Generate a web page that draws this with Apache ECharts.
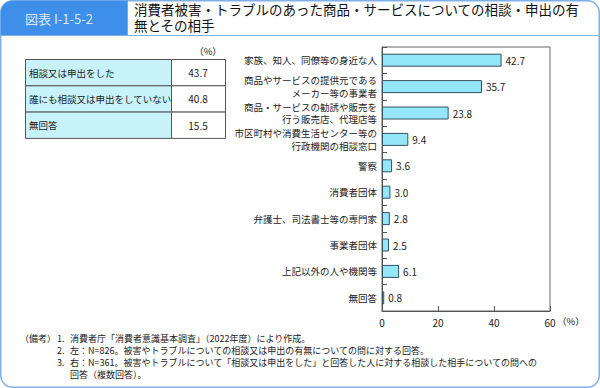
<!DOCTYPE html>
<html><head><meta charset="utf-8">
<script src="https://cdn.jsdelivr.net/npm/echarts@6/dist/echarts.min.js"></script>
<style>html,body{margin:0;padding:0;background:#fff}#c{width:600px;height:388px}</style>
</head><body><div id="c"></div>
<script>
// ---- data ----
var tableCategories = ['相談又は申出をした', '誰にも相談又は申出をしていない', '無回答'];
var tableValues = [43.7, 40.8, 15.5];
var barCategories = [
  '家族、知人、同僚等の身近な人',
  '商品やサービスの提供元である\nメーカー等の事業者',
  '商品・サービスの勧誘や販売を\n行う販売店、代理店等',
  '市区町村や消費生活センター等の\n行政機関の相談窓口',
  '警察',
  '消費者団体',
  '弁護士、司法書士等の専門家',
  '事業者団体',
  '上記以外の人や機関等',
  '無回答'
];
var barValues = [42.7, 35.7, 23.8, 9.4, 3.6, 3.0, 2.8, 2.5, 6.1, 0.8];
var xMin = 0, xMax = 60, xInterval = 20;
var figureLabel = '図表 I-1-5-2';
var titleLines = ['消費者被害・トラブルのあった商品・サービスについての相談・申出の有', '無とその相手'];
var noteHead = '（備考）';
var notes = [
  ['1.', '消費者庁「消費者意識基本調査」（2022年度）により作成。'],
  ['2.', '左：N=826。被害やトラブルについての相談又は申出の有無についての問に対する回答。'],
  ['3.', '右：N=361。被害やトラブルについて「相談又は申出をした」と回答した人に対する相談した相手についての問への'],
  ['', '回答（複数回答）。']
];

// ---- rendering ----
var FONT = '"Noto Sans CJK JP", "Noto Sans", sans-serif';
var frameColor = '#7fb0ea';
var g = [];
function txt(x, y, s, size, color, align, lh, font){
  return {type:'text', x:x, y:y, style:{text:s, fill:color || '#222', font:size + 'px ' + (font || FONT),
    textAlign:align || 'left', align:align || 'left', textVerticalAlign:'middle', verticalAlign:'middle',
    lineHeight: lh || Math.round(size*1.2)}};
}
g.push({type:'rect', z:-10, silent:true, shape:{x:0.75,y:0.75,width:598.5,height:386.5,r:12}, style:{fill:'#fff', stroke:frameColor, lineWidth:1.5}});
g.push({type:'rect', z:-9, silent:true, shape:{x:0.75,y:0.75,width:127,height:34.5,r:[12,0,0,0]}, style:{fill:'#3d8fe9'}});
g.push({type:'line', z:-9, silent:true, shape:{x1:0.75,y1:35.5,x2:599.25,y2:35.5}, style:{stroke:frameColor, lineWidth:1}});
g.push(txt(25, 18.5, figureLabel, 13, '#dce9ff'));
titleLines.forEach(function(t, i){
  g.push(txt(134, 10.5 + i*16, t, 13.5, '#111', 'left', 14, '"Liberation Sans", "Noto Sans CJK JP", sans-serif'));
});
// table
var tX = 25, tDiv = 171, tR = 225, tTop = 59, rowH = 26.3;
g.push(txt(208, 51, '（%）', 9.5, '#222', 'center'));
tableCategories.forEach(function(cat, i){
  var y = tTop + i*rowH;
  g.push({type:'rect', silent:true, shape:{x:tX+0.5,y:y+0.5,width:tDiv-tX,height:rowH}, style:{fill:'#c8f3fb', stroke:'#555', lineWidth:1}});
  g.push({type:'rect', silent:true, shape:{x:tDiv+0.5,y:y+0.5,width:tR-tDiv,height:rowH}, style:{fill:'#fff', stroke:'#555', lineWidth:1}});
  g.push(txt(tX+4, y+rowH/2+0.5, cat, 9.5, '#222'));
  g.push(txt((tDiv+tR)/2, y+rowH/2+0.5, tableValues[i].toFixed(1), 10, '#222', 'center'));
});
// notes
var noteY = [338, 350, 362, 374];
g.push(txt(20, noteY[0], noteHead, 9, '#222', 'left', 10));
notes.forEach(function(n, i){
  if (n[0]) g.push(txt(57, noteY[i], n[0], 9, '#222', 'left', 10));
  g.push(txt(70, noteY[i], n[1], 9, '#222', 'left', 10));
});
g.push(txt(557, 321, '（%）', 9.5, '#222', 'left'));

var chart = echarts.init(document.getElementById('c'), null, {renderer:'svg'});
chart.setOption({
  animation:false,
  textStyle:{fontFamily:FONT},
  graphic:g,
  grid:{left:382, right:50, top:47, bottom:77, show:true, borderColor:'#666', borderWidth:1, backgroundColor:'transparent'},
  xAxis:{type:'value', min:xMin, max:xMax, interval:xInterval,
    axisLine:{show:true, lineStyle:{color:'#555'}},
    axisTick:{show:true, inside:true, length:5, lineStyle:{color:'#555'}},
    splitLine:{show:false},
    axisLabel:{color:'#222', fontSize:10, margin:6}
  },
  yAxis:{type:'category', inverse:true, data:barCategories,
    axisLine:{show:true, lineStyle:{color:'#555'}},
    axisTick:{show:true, inside:true, length:5, lineStyle:{color:'#555'}},
    axisLabel:{color:'#222', fontSize:9.5, lineHeight:12.5, margin:5, align:'right'}
  },
  series:[{type:'bar', data:barValues, barWidth:13,
    itemStyle:{color:'#93e7f9', borderColor:'#35505e', borderWidth:1},
    label:{show:true, position:'right', distance:4, color:'#222', fontSize:10,
      formatter:function(p){return p.value.toFixed(1);}}
  }]
});
</script></body></html>
